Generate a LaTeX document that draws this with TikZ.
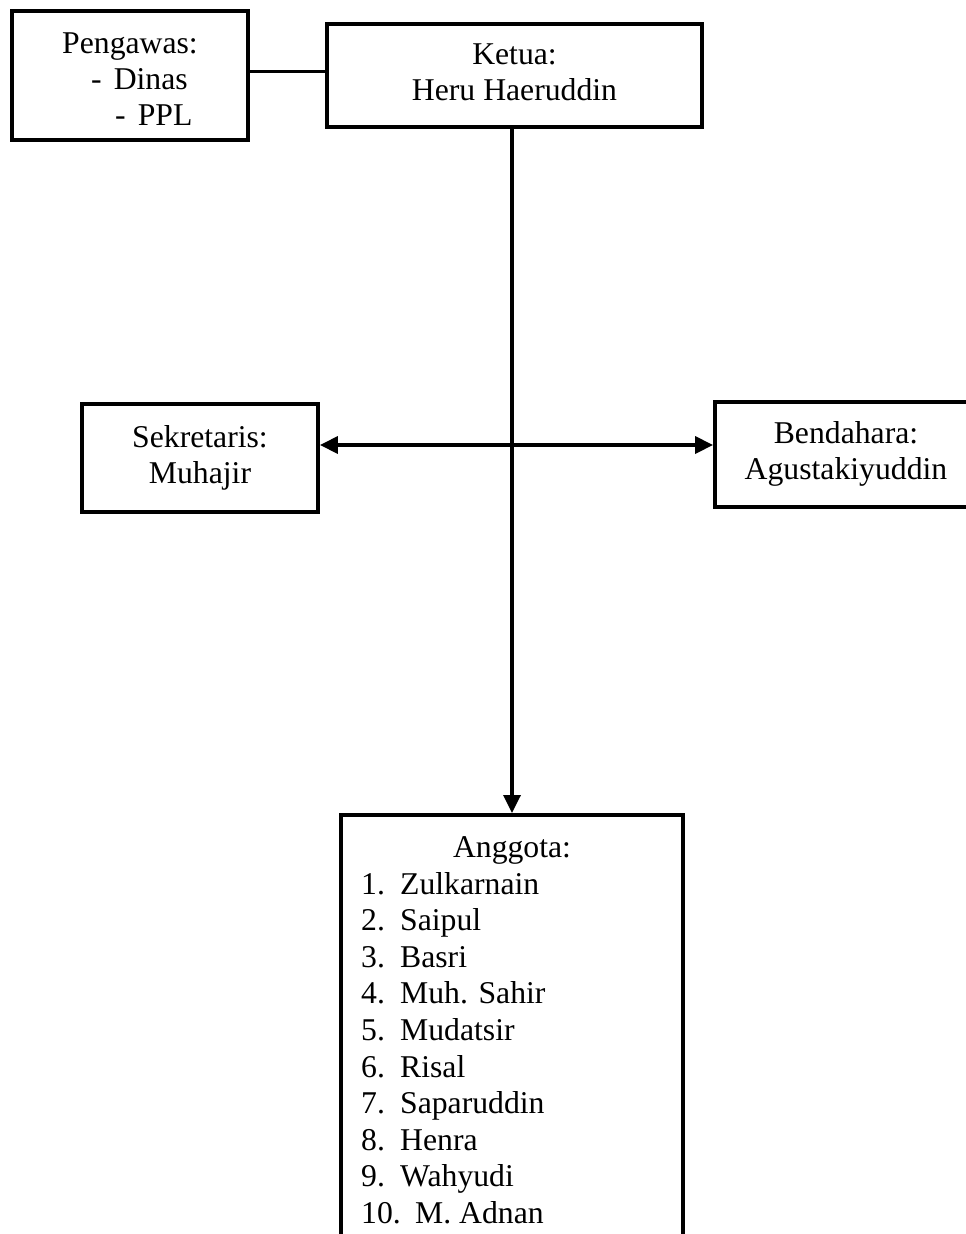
\documentclass[tikz,border=0pt]{standalone}
\usepackage{fontspec}
\setmainfont{Liberation Serif}
\usetikzlibrary{arrows.meta}
\tikzset{
  box/.style={draw=black, line width=3.8pt, rectangle, inner sep=0pt},
  txt/.style={inner sep=0pt, font=\fontsize{31.7}{36}\selectfont},
  conn/.style={draw=black, line width=3.4pt},
  tip/.style={-{Triangle[length=18pt,width=17pt]}},
  dtip/.style={{Triangle[length=18pt,width=17pt]}-{Triangle[length=18pt,width=17pt]}}
}
\begin{document}
\begin{tikzpicture}[x=1pt,y=-1pt]
\useasboundingbox (0,0) rectangle (966,1234);
\clip (0,0) rectangle (966,1234);
\fill[white] (0,0) rectangle (966,1234);

% Pengawas
\node[box, txt, minimum width=236pt, minimum height=129pt] (peng) at (130,75.5)
  {\begin{tabular}{@{}l@{}}\rule{0pt}{39pt}Pengawas:\\\hspace*{29pt}-\hspace{12pt}Dinas\\\hspace*{53pt}-\hspace{12pt}PPL\end{tabular}};

% Ketua
\node[box, txt, minimum width=375pt, minimum height=103pt] (ketua) at (514.5,75.5)
  {\begin{tabular}{@{}c@{}}Ketua:\\Heru Haeruddin\end{tabular}};

% Sekretaris
\node[box, txt, minimum width=236pt, minimum height=108pt] (sek) at (200,458)
  {\begin{tabular}{@{}c@{}}Sekretaris:\\Muhajir\end{tabular}};

% Bendahara
\node[box, txt, minimum width=262pt, minimum height=105pt] (ben) at (846,454.5)
  {\begin{tabular}{@{}c@{}}Bendahara:\\Agustakiyuddin\end{tabular}};

% Anggota
\node[box, minimum width=342pt, minimum height=440pt, anchor=north] (anggota) at (512,813) {};
\node[txt, anchor=base] (anggotatitle) at (512,857) {Anggota:};
\node[txt, anchor=base west, font=\fontsize{31.7}{36.6}\selectfont] (anggotalist) at (361,894)
  {\begin{tabular}[t]{@{}l@{}}
   \makebox[39pt][l]{1.}Zulkarnain\\
   \makebox[39pt][l]{2.}Saipul\\
   \makebox[39pt][l]{3.}Basri\\
   \makebox[39pt][l]{4.}Muh. Sahir\\
   \makebox[39pt][l]{5.}Mudatsir\\
   \makebox[39pt][l]{6.}Risal\\
   \makebox[39pt][l]{7.}Saparuddin\\
   \makebox[39pt][l]{8.}Henra\\
   \makebox[39pt][l]{9.}Wahyudi\\
   \makebox[54pt][l]{10.}M. Adnan
   \end{tabular}};

% connectors
\draw[conn] ([yshift=4pt]peng.east) -- ([yshift=4pt]peng.east -| ketua.west);
\draw[conn, tip] (ketua.south -| anggota.north) -- (anggota.north);
\draw[conn, dtip] ([yshift=13pt]sek.east) -- ([yshift=13pt]sek.east -| ben.west);
\end{tikzpicture}
\end{document}
